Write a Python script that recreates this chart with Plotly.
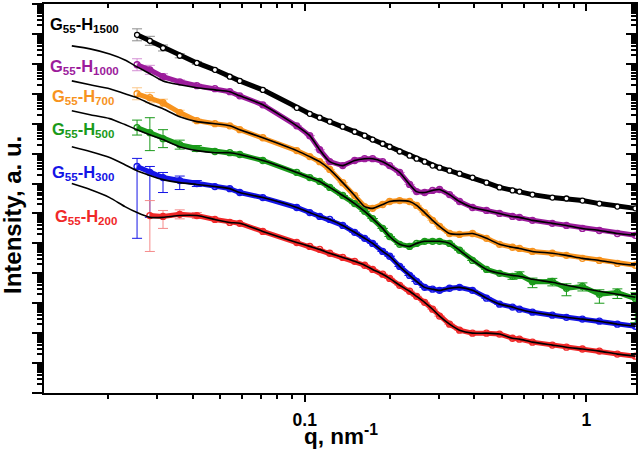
import numpy as np
import plotly.graph_objects as go

# ---------------- data ----------------
# scattering vector q, nm^-1
q = [0.0254, 0.0282, 0.0314, 0.0360, 0.0414, 0.0480, 0.0542, 0.0588, 0.0710, 0.0937,
     0.1042, 0.1130, 0.1227, 0.1364, 0.1504, 0.1632, 0.1742, 0.1891, 0.2002, 0.2173,
     0.2357, 0.2496, 0.2665, 0.2844, 0.3011, 0.3267, 0.3545, 0.3941, 0.4419, 0.4915,
     0.5466, 0.5785, 0.6435, 0.757, 0.8495, 0.968, 1.112, 1.288, 1.492]
q_fit_low = [0.0149, 0.0173, 0.0203, 0.0230]

# log10 of intensity (arbitrary units, curves shifted vertically)
lg_h1500 = [11.97, 11.77, 11.53, 11.27, 11.03, 10.80, 10.57, 10.43, 10.13, 9.53,
            9.33, 9.20, 9.07, 8.90, 8.73, 8.60, 8.47, 8.33, 8.23, 8.07,
            7.93, 7.83, 7.73, 7.60, 7.53, 7.43, 7.33, 7.20, 7.03, 6.87,
            6.77, 6.73, 6.63, 6.53, 6.50, 6.43, 6.33, 6.23, 6.17]
lg_h1000 = [10.97, 10.80, 10.57, 10.40, 10.27, 10.17, 10.07, 9.93, 9.63, 8.93,
            8.60, 8.13, 7.73, 7.60, 7.77, 7.83, 7.83, 7.73, 7.60, 7.37,
            6.97, 6.73, 6.70, 6.77, 6.80, 6.63, 6.40, 6.20, 6.10, 6.00,
            5.90, 5.87, 5.77, 5.67, 5.60, 5.50, 5.43, 5.33, 5.27]
lg_h700 = [10.00, 9.87, 9.70, 9.37, 9.10, 9.00, 8.93, 8.80, 8.53, 8.10,
           7.90, 7.73, 7.47, 7.03, 6.60, 6.23, 6.17, 6.30, 6.40, 6.43,
           6.40, 6.27, 6.03, 5.77, 5.57, 5.33, 5.30, 5.33, 5.17, 4.97,
           4.87, 4.83, 4.73, 4.67, 4.60, 4.50, 4.43, 4.33, 4.27]
lg_h500 = [8.87, 8.70, 8.50, 8.30, 8.17, 8.07, 8.03, 7.97, 7.77, 7.37,
           7.20, 7.07, 6.87, 6.60, 6.33, 6.07, 5.83, 5.50, 5.23, 4.97,
           4.90, 5.00, 5.07, 5.07, 5.07, 5.00, 4.77, 4.43, 4.13, 4.00,
           3.90, 3.95, 3.72, 3.73, 3.50, 3.56, 3.30, 3.36, 3.15]
lg_h300 = [7.57, 7.37, 7.20, 7.10, 7.00, 6.90, 6.83, 6.70, 6.53, 6.20,
           6.03, 5.90, 5.80, 5.60, 5.37, 5.17, 5.00, 4.73, 4.57, 4.23,
           3.93, 3.73, 3.53, 3.47, 3.43, 3.50, 3.53, 3.43, 3.17, 2.97,
           2.87, 2.80, 2.70, 2.60, 2.53, 2.47, 2.40, 2.30, 2.23]
lg_h200 = [5.93, 5.90, 5.97, 5.93, 5.80, 5.70, 5.67, 5.40, 5.03,
           4.90, 4.80, 4.67, 4.53, 4.40, 4.27, 4.13, 3.97, 3.83, 3.60,
           3.40, 3.23, 3.03, 2.80, 2.57, 2.30, 2.10, 2.00, 2.00, 1.97,
           1.83, 1.80, 1.70, 1.60, 1.53, 1.47, 1.40, 1.30, 1.23]   # starts at q[1]

# model fits (black lines): low-q extension + values on the q grid
fit_h1000 = [11.60, 11.50, 11.33, 11.13, 10.90, 10.67, 10.43, 10.30, 10.20, 10.13] + lg_h1000[6:]
fit_h700 = [10.43, 10.30, 10.17, 10.00, 9.87, 9.67, 9.50, 9.23, 9.07, 9.00] + lg_h700[6:]
fit_h500 = [9.43, 9.30, 9.17, 8.97, 8.80, 8.63, 8.47, 8.23, 8.10, 8.03,
            8.03, 7.97, 7.77, 7.37, 7.20, 7.07, 6.87, 6.60, 6.33, 6.07,
            5.83, 5.50, 5.23, 4.97, 4.90, 5.00, 5.07, 5.07, 5.07, 5.00,
            4.77, 4.43, 4.13, 4.00, 3.93, 3.90, 3.80, 3.70, 3.60, 3.50,
            3.40, 3.30, 3.20]
fit_h300 = [8.23, 8.07, 7.87, 7.63, 7.43, 7.27, 7.13, 7.03, 6.97, 6.90] + lg_h300[6:]
fit_h200 = [7.00, 6.80, 6.53, 6.23, 6.03, 5.87, 5.87, 5.93, 5.93, 5.80] + lg_h200[5:]

# error bars (decades up / down) for the first points, then for noisy tail of H500
err_h1500 = ([0.20, 0.15, 0.10, 0.07, 0.05], [0.20, 0.15, 0.10, 0.07, 0.05])
err_h1000 = ([0.20, 0.15, 0.10, 0.07, 0.05], [0.20, 0.15, 0.10, 0.07, 0.05])
err_h700 = ([0.20, 0.17, 0.12, 0.08, 0.05], [0.20, 0.17, 0.12, 0.08, 0.05])
err_h500_up = [0.25, 0.50, 0.30, 0.15, 0.10] + [0] * 25 + [0.08, 0.10, 0.12, 0.10, 0.15, 0.12, 0.15, 0.12, 0.20]
err_h500_dn = [0.25, 0.60, 0.30, 0.15, 0.10] + [0] * 25 + [0.10, 0.12, 0.20, 0.15, 0.25, 0.15, 0.30, 0.20, 0.80]
err_h300 = ([0.27, 0.20, 0.17, 0.15, 0.10], [2.40, 1.50, 0.50, 0.30, 0.10])
err_h200 = ([0.50, 0.20, 0.15, 0.10], [1.20, 0.40, 0.15, 0.10])

names = ["1500", "1000", "700", "500", "300", "200"]
colors = ["#000000", "#9C1C9C", "#F7931E", "#1A9A1A", "#1414E6", "#F02828"]
err_colors = ["#8C8C8C", "#D48FD4", "#FBC88A", "#1A9A1A", "#1414E6", "#F58A8A"]

series = [
    (q, lg_h1500, err_h1500[0], err_h1500[1], None),
    (q, lg_h1000, err_h1000[0], err_h1000[1], fit_h1000),
    (q, lg_h700, err_h700[0], err_h700[1], fit_h700),
    (q, lg_h500, err_h500_up, err_h500_dn, fit_h500),
    (q, lg_h300, err_h300[0], err_h300[1], fit_h300),
    (q[1:], lg_h200, err_h200[0], err_h200[1], fit_h200),
]

fig = go.Figure()
for i, ((qq, lg, eu, ed, fit), col, ecol) in enumerate(zip(series, colors, err_colors)):
    I = 10 ** np.array(lg)
    n = len(lg)
    eu = np.array(list(eu) + [0] * (n - len(eu)))
    ed = np.array(list(ed) + [0] * (n - len(ed)))
    mk = dict(symbol="circle", size=5, color="white", line=dict(color=col, width=1.3)) if i == 0 else \
        dict(symbol="circle-open", size=6, color=col, line=dict(width=1.3))
    fig.add_trace(go.Scatter(
        x=qq, y=I, mode="lines+markers",
        line=dict(color=col, width=5),
        marker=mk,
        error_y=dict(type="data", symmetric=False, array=I * (10 ** eu - 1),
                     arrayminus=I * (1 - 10 ** (-ed)), color=ecol, thickness=1, width=5),
        showlegend=False, hoverinfo="skip"))

q_fit = q_fit_low + q
for (qq, lg, eu, ed, fit) in series:
    if fit is None:
        continue
    fig.add_trace(go.Scatter(x=q_fit, y=10 ** np.array(fit), mode="lines",
                             line=dict(color="black", width=1.6, shape="spline", smoothing=0.6),
                             showlegend=False, hoverinfo="skip"))

FONT = "Liberation Sans, Arial, sans-serif"
xr = [np.log10(0.01187), np.log10(1.5)]
yr = [0, 13]

axis_common = dict(showgrid=False, zeroline=False, showline=True, linecolor="black",
                   linewidth=2, tickcolor="black", tickwidth=1.5)

fig.update_layout(
    width=639, height=449,
    margin=dict(l=44, r=3, t=4, b=56),
    paper_bgcolor="white", plot_bgcolor="white",
    font=dict(family=FONT, color="black"),
    xaxis=dict(type="log", range=xr, dtick=1, ticks="outside", ticklen=7, ticklabelstandoff=3,
               minor=dict(ticks="outside", ticklen=4, dtick="D1", tickcolor="black", tickwidth=1.5),
               tickfont=dict(size=17.5, family=FONT, weight="bold"), **axis_common),
    yaxis=dict(type="log", range=yr, dtick=1, ticks="outside", ticklen=10, showticklabels=False,
               minor=dict(ticks="outside", ticklen=5, dtick="D1", tickcolor="black", tickwidth=1.5),
               **axis_common),
    xaxis2=dict(type="log", range=xr, dtick=1, ticks="inside", ticklen=7, overlaying="x", side="top",
                showticklabels=False,
                minor=dict(ticks="inside", ticklen=4, dtick="D1", tickcolor="black", tickwidth=1.5),
                **axis_common),
    yaxis2=dict(type="log", range=yr, dtick=1, ticks="inside", ticklen=10, overlaying="y", side="right",
                showticklabels=False,
                minor=dict(ticks="inside", ticklen=5, dtick="D1", tickcolor="black", tickwidth=1.5),
                **axis_common),
)
fig.add_trace(go.Scatter(x=[], y=[], xaxis="x2", yaxis="y2", showlegend=False))

# series labels
label_pos = [(48, 25), (48, 67), (50, 97), (50, 130), (50, 173), (53, 217)]
for nm, col, (px, py) in zip(names, colors, label_pos):
    fig.add_annotation(xref="paper", yref="paper", x=(px - 44) / 592, y=(393 - py) / 389,
                       xanchor="left", yanchor="middle", showarrow=False,
                       text=f"G<sub>55</sub>-H<sub>{nm}</sub>",
                       font=dict(size=16.5, color=col, family=FONT, weight="bold"))

fig.add_annotation(xref="paper", yref="paper", x=(13 - 44) / 592, y=(393 - 215) / 389,
                   textangle=-90, showarrow=False, xanchor="center", yanchor="middle",
                   text="Intensity, a. u.", font=dict(size=24, family=FONT, weight="bold"))
fig.add_annotation(xref="paper", yref="paper", x=(341 - 44) / 592, y=(393 - 435) / 389,
                   showarrow=False, xanchor="center", yanchor="middle",
                   text="q, nm<sup>-1</sup>", font=dict(size=22.5, family=FONT, weight="bold"))

fig.write_html("out.html", config={"displayModeBar": False},
               post_script="document.body.style.margin='0';")
